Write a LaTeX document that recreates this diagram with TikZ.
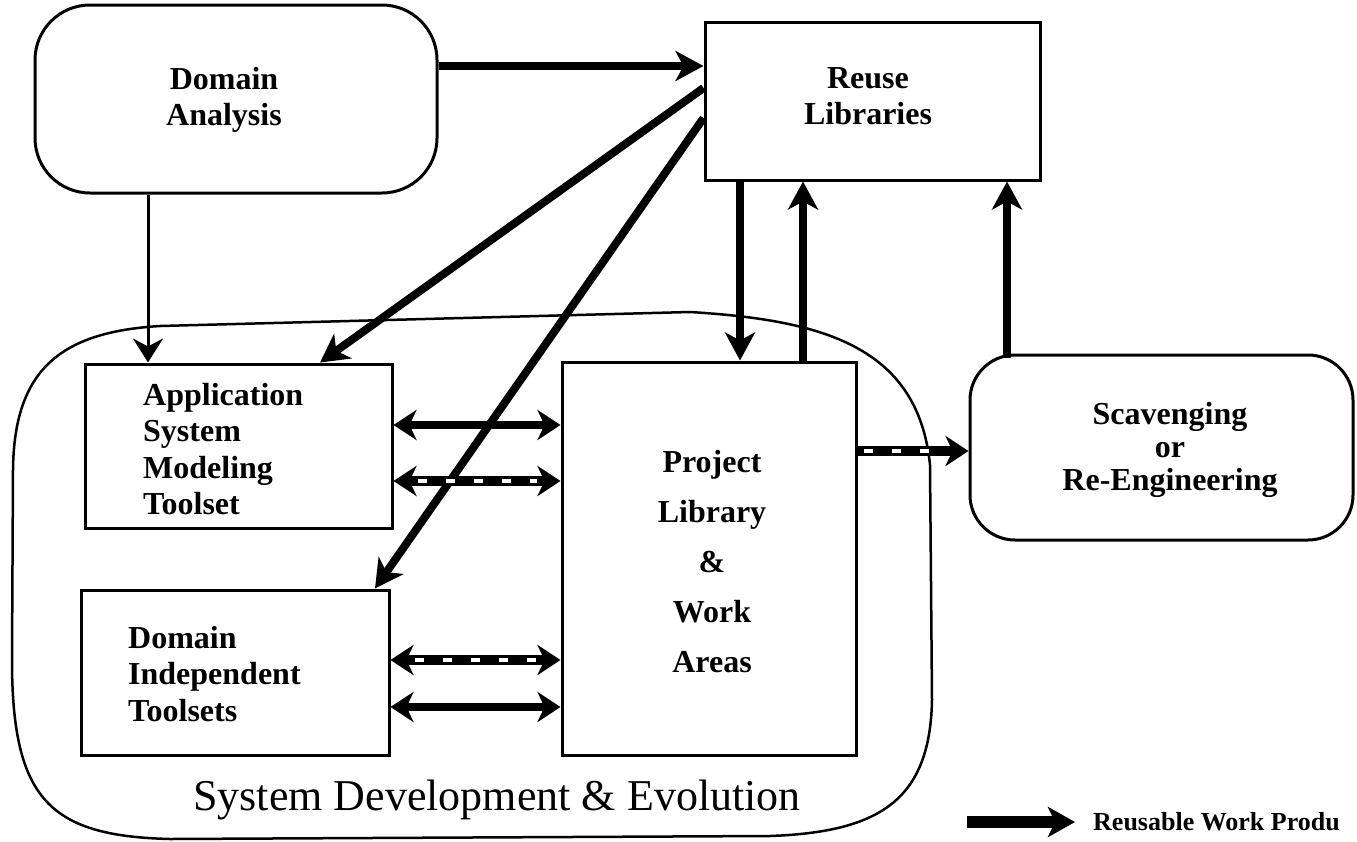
\documentclass[tikz,border=0pt]{standalone}
\usepackage{fontspec}
\setmainfont{Liberation Serif}
\usetikzlibrary{arrows.meta}
\begin{document}
\begin{tikzpicture}[x=1pt,y=-1pt,
  box/.style={draw, line width=3pt, inner sep=0pt},
  lbl/.style={font=\fontsize{32}{36.5}\selectfont\bfseries, inner sep=0pt},
  heavy/.style={line width=8pt, -{Stealth[length=28pt,width=30pt,inset=8pt]}},
  thinarrow/.style={line width=3pt, -{Stealth[length=24pt,width=30pt,inset=8pt]}},
  twoway/.style={line width=8.5pt, {Stealth[length=23pt,width=30pt,inset=7pt]}-{Stealth[length=23pt,width=30pt,inset=7pt]}},
  wpd/.style={line width=10.5pt, {Stealth[length=23pt,width=30pt,inset=7pt]}-{Stealth[length=23pt,width=30pt,inset=7pt]},
    postaction={draw=white, line width=3.5pt, -, dash pattern=on 9pt off 19pt, shorten <=24pt, shorten >=24pt}},
  wpdone/.style={line width=10.5pt, -{Stealth[length=23pt,width=30pt,inset=7pt]},
    postaction={draw=white, line width=3.5pt, -, dash pattern=on 9pt off 19pt, shorten <=6pt, shorten >=24pt}},
  legendarrow/.style={line width=12pt, -{Stealth[length=27pt,width=30pt,inset=7pt]}},
  region/.style={line width=2.5pt}
]
\useasboundingbox (0,0) rectangle (1357,841);

% System Development & Evolution region
\draw[region] (160,326) -- (690,312) .. controls (820,320) and (918,345) .. (930,465)
  -- (932,700) .. controls (930,800) and (880,832) .. (770,836)
  -- (170,839) .. controls (50,836) and (12,800) .. (12,660)
  -- (13,470) .. controls (14,370) and (60,332) .. (160,326) -- cycle;
\node[font=\fontsize{44}{50}\selectfont, inner sep=0pt] (sde) at (497,800) {System Development \& Evolution};

% boxes
\node[box, rounded corners=55pt, minimum width=402pt, minimum height=188pt] (da) at (236,99) {};
\node[lbl, align=center] (daT) at (224,100) {Domain\\Analysis};

\node[box, minimum width=335pt, minimum height=158pt] (rl) at (872.5,101) {};
\node[lbl, align=center] (rlT) at (868,96) {Reuse\\Libraries};

\node[box, minimum width=307pt, minimum height=164pt] (asmt) at (238.5,446) {};
\node[lbl, align=left, anchor=west] (asmtT) at (143,449) {Application\\System\\Modeling\\Toolset};

\node[box, minimum width=308pt, minimum height=165pt] (dit) at (235,672.5) {};
\node[lbl, align=left, anchor=west] (ditT) at (128,674) {Domain\\Independent\\Toolsets};

\node[box, minimum width=294pt, minimum height=393pt] (plwa) at (709,558.5) {};
\node[lbl, align=center, font=\fontsize{32}{50}\selectfont\bfseries] (plwaT) at (712,562) {Project\\Library\\\&\\Work\\Areas};

\node[box, rounded corners=45pt, minimum width=383pt, minimum height=185pt] (sor) at (1161.5,447.5) {};
\node[lbl, align=center, font=\fontsize{32}{33}\selectfont\bfseries] (sorT) at (1170,450) {Scavenging\\or\\Re-Engineering};

% connectors
\draw[heavy] ([yshift=33pt]da.east) -- ([yshift=33pt]da.east -| rl.west);
\draw[thinarrow] ([xshift=-88pt]da.south) -- ([xshift=-88pt]da.south |- asmt.north);
\draw[heavy] ([yshift=13pt]rl.west) -- ([xshift=81.5pt]asmt.north);
\draw[heavy] ([yshift=-17pt]rl.west) -- ([xshift=140pt]dit.north);
\draw[heavy] ([xshift=-132.5pt]rl.south) -- ([xshift=-132.5pt]rl.south |- plwa.north);
\draw[heavy] ([xshift=94pt]plwa.north) -- ([xshift=94pt]plwa.north |- rl.south);
\draw[heavy] ([xshift=-154.5pt,yshift=-4pt]sor.north) -- ([xshift=-154.5pt]sor.north |- rl.south);

\draw[twoway] ([yshift=21pt]asmt.east) -- ([yshift=21pt]asmt.east -| plwa.west);
\draw[wpd] ([yshift=-35pt]asmt.east) -- ([yshift=-35pt]asmt.east -| plwa.west);
\draw[wpd] ([yshift=12.5pt]dit.east) -- ([yshift=12.5pt]dit.east -| plwa.west);
\draw[twoway] ([yshift=-34.5pt]dit.east) -- ([yshift=-34.5pt]dit.east -| plwa.west);
\draw[wpdone] ([yshift=107.5pt]plwa.east) -- ([yshift=107.5pt]plwa.east -| sor.west);

% legend
\coordinate (lgA) at (967,822);
\coordinate (lgB) at (1075,822);
\draw[legendarrow] (lgA) -- (lgB);
\node[font=\fontsize{26}{30}\selectfont\bfseries, anchor=west, inner sep=0pt] (lgT) at (1093,822) {Reusable Work Produ};
\end{tikzpicture}
\end{document}
